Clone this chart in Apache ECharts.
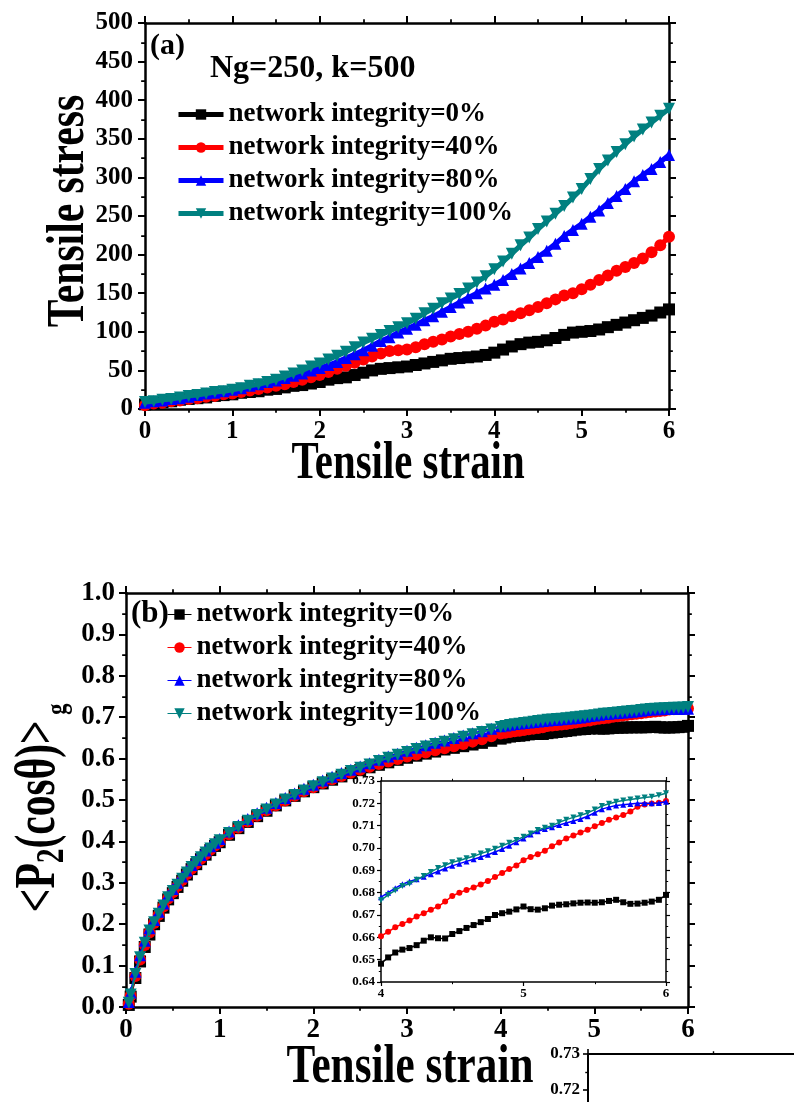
<!DOCTYPE html>
<html><head><meta charset="utf-8">
<script src="https://cdn.jsdelivr.net/npm/echarts@6/dist/echarts.min.js"></script>
<style>html,body{margin:0;padding:0;background:#fff}#c{width:794px;height:1102px}</style>
</head><body><div id="c"></div>
<script>
// ---------- DATA ----------
const seriesNames = ['network integrity=0%','network integrity=40%','network integrity=80%','network integrity=100%'];

// (a) tensile stress vs tensile strain
const strainA = [0,0.1,0.2,0.3,0.4,0.5,0.6,0.7,0.8,0.9,1.0,1.1,1.2,1.3,1.4,1.5,1.6,1.7,1.8,1.9,2.0,
  2.1,2.2,2.3,2.4,2.5,2.6,2.7,2.8,2.9,3.0,3.1,3.2,3.3,3.4,3.5,3.6,3.7,3.8,3.9,4.0,
  4.1,4.2,4.3,4.4,4.5,4.6,4.7,4.8,4.9,5.0,5.1,5.2,5.3,5.4,5.5,5.6,5.7,5.8,5.9,6.0];
const stress0 = [6,7,9,10,12,13,14,15,17,18,19,21,22,23,25,26,28,30,31,33,35,38,40,41,44,47,50,52,53,54,55,
  57,59,61,63,65,66,67,68,70,73,77,81,84,86,87,89,92,96,99,100,101,103,106,109,112,115,118,121,125,129];
const stress40 = [5,7,8,10,11,13,14,16,17,19,20,22,24,26,28,30,32,35,38,41,44,48,52,56,60,64,68,72,75,76,77,
  80,84,87,90,94,97,100,104,108,113,116,120,124,128,132,137,142,147,150,155,161,167,173,179,184,189,195,203,212,223];
const stress80 = [8,10,11,13,14,16,18,20,21,23,25,27,30,32,35,37,40,43,46,50,53,57,61,66,71,76,82,88,93,99,104,
  109,115,120,126,132,138,144,150,156,161,167,175,182,189,197,205,214,224,232,240,249,257,267,276,285,295,303,311,320,329];
const stress100 = [9,10,12,13,15,17,18,20,22,23,25,27,30,32,35,38,42,46,50,55,59,64,69,74,80,86,91,96,101,106,111,
  117,124,130,137,143,149,156,164,172,181,191,201,212,222,233,243,253,263,274,285,298,311,322,333,343,353,362,371,380,389];

// (b) <P2(cos theta)>g vs tensile strain
const strainB = [0.03,0.05,0.1,0.15,0.2,0.25,0.3,0.35,0.4,0.45,0.5,0.55,0.6,0.65,0.7,0.75,0.8,0.85,0.9,0.95,1.0,
  1.1,1.2,1.3,1.4,1.5,1.6,1.7,1.8,1.9,2.0,2.1,2.2,2.3,2.4,2.5,2.6,2.7,2.8,2.9,3.0,3.1,3.2,3.3,3.4,3.5,3.6,3.7,3.8,3.9,4.0,
  4.05,4.1,4.15,4.2,4.25,4.3,4.35,4.4,4.45,4.5,4.55,4.6,4.65,4.7,4.75,4.8,4.85,4.9,4.95,5.0,
  5.05,5.1,5.15,5.2,5.25,5.3,5.35,5.4,5.45,5.5,5.55,5.6,5.65,5.7,5.75,5.8,5.85,5.9,5.95,6.0];
const p2_0 = [0.005,0.025,0.07,0.11,0.145,0.175,0.2,0.22,0.24,0.26,0.275,0.29,0.305,0.32,0.333,0.345,0.357,0.368,0.379,0.389,0.398,
  0.416,0.432,0.447,0.461,0.474,0.487,0.499,0.51,0.521,0.531,0.54,0.549,0.557,0.565,0.572,0.579,0.585,0.591,0.597,0.602,
  0.607,0.612,0.617,0.622,0.626,0.63,0.634,0.638,0.643,0.6482,
  0.6510,0.6532,0.6545,0.6552,0.6565,0.6585,0.6600,0.6596,0.6595,0.6615,0.6628,0.6642,0.6655,0.6668,0.6682,0.6700,0.6708,0.6715,0.6725,0.6738,
  0.6726,0.6724,0.6730,0.6742,0.6746,0.6748,0.6752,0.6755,0.6756,0.6755,0.6757,0.6763,0.6768,0.6757,0.6750,0.6751,0.6755,0.6760,0.6768,0.6790];
const p2_40 = [0.008,0.028,0.075,0.115,0.15,0.18,0.203,0.223,0.243,0.262,0.277,0.292,0.307,0.321,0.334,0.346,0.358,0.369,0.38,0.39,0.399,
  0.417,0.433,0.448,0.462,0.475,0.487,0.499,0.51,0.521,0.531,0.541,0.55,0.558,0.566,0.573,0.58,0.587,0.593,0.599,0.605,
  0.61,0.615,0.62,0.625,0.63,0.635,0.641,0.647,0.654,0.6605,
  0.6625,0.6645,0.6660,0.6675,0.6693,0.6708,0.6724,0.6738,0.6760,0.6785,0.6800,0.6812,0.6823,0.6837,0.6852,0.6870,0.6888,0.6906,0.6922,0.6945,
  0.6960,0.6972,0.6988,0.7008,0.7025,0.7043,0.7056,0.7069,0.7082,0.7097,0.7112,0.7126,0.7137,0.7148,0.7163,0.7185,0.7195,0.7199,0.7203,0.7210];
const p2_80 = [0.012,0.035,0.085,0.125,0.16,0.19,0.21,0.23,0.25,0.27,0.285,0.3,0.315,0.33,0.343,0.355,0.367,0.378,0.388,0.397,0.406,
  0.424,0.439,0.454,0.468,0.481,0.493,0.505,0.516,0.527,0.537,0.547,0.556,0.565,0.573,0.581,0.589,0.597,0.605,0.612,0.619,
  0.626,0.632,0.638,0.644,0.65,0.656,0.661,0.666,0.672,0.678,
  0.680,0.682,0.6838,0.6850,0.6860,0.6871,0.6883,0.6895,0.6908,0.6920,0.6930,0.6940,0.6950,0.6960,0.6970,0.6982,0.6995,0.7010,0.7026,0.7042,
  0.7060,0.7075,0.7085,0.7093,0.7103,0.7112,0.7121,0.7130,0.7142,0.7158,0.7174,0.7183,0.7190,0.7194,0.7197,0.7200,0.7200,0.7200,0.7202,0.7207];
const p2_100 = [0.01,0.03,0.08,0.12,0.155,0.185,0.205,0.225,0.245,0.265,0.28,0.295,0.31,0.325,0.338,0.35,0.362,0.373,0.383,0.393,0.403,
  0.420,0.435,0.450,0.464,0.477,0.489,0.501,0.512,0.523,0.533,0.543,0.552,0.561,0.570,0.578,0.586,0.594,0.602,0.609,0.616,
  0.623,0.629,0.635,0.641,0.647,0.653,0.659,0.664,0.670,0.6766,
  0.679,0.681,0.683,0.684,0.6858,0.6875,0.6893,0.6910,0.6923,0.6936,0.6944,0.6954,0.6963,0.6975,0.6985,0.6997,0.7010,0.7023,0.7036,0.7050,
  0.7065,0.7081,0.7091,0.7100,0.7115,0.7127,0.7137,0.7147,0.7157,0.7172,0.7188,0.7198,0.7207,0.7213,0.7217,0.7222,0.7226,0.7229,0.7236,0.7245];

const seriesColors = ['#000000','#ff0000','#0000ff','#008080'];
const seriesSymbols = ['rect','circle','triangle','triangle'];
const seriesRotate = [0,0,0,180];

// ---------- CHART ----------
const FONT = '"Liberation Serif","Times New Roman",serif';
const chart = echarts.init(document.getElementById('c'), null, {renderer:'canvas'});

function axis(o){
  return {
    type:'value', gridIndex:o.grid, position:o.pos, min:o.min, max:o.max, interval:o.interval,
    axisLine:{show:true, onZero:false, lineStyle:{color:'#000', width:o.lw}},
    axisTick:{show:true, inside:false, length:o.tick, lineStyle:{color:'#000', width:o.lw*0.8}},
    minorTick:{show:true, splitNumber:2, length:o.tick*0.55, lineStyle:{color:'#000', width:o.lw*0.7}},
    splitLine:{show:false}, minorSplitLine:{show:false},
    axisLabel:{show:!!o.label, margin:o.margin||8, fontFamily:FONT, fontWeight:'bold',
      fontSize:o.fs||12, color:'#000', formatter:o.fmt}
  };
}

const grids = [
  {left:145, top:23, width:524, height:386},
  {left:126, top:593, width:562, height:414},
  {left:381, top:781, width:285, height:201, show:true, backgroundColor:'#fff', borderWidth:0},
  {left:588, top:1054, width:500, height:324}
].map(g => Object.assign({containLabel:false, outerBoundsMode:'none'}, g));

const xAxes = [
  axis({grid:0,pos:'bottom',min:0,max:6,interval:1,lw:2.5,tick:7,label:true,fs:25,margin:10}),
  axis({grid:0,pos:'top',min:0,max:6,interval:1,lw:2.5,tick:7}),
  axis({grid:1,pos:'bottom',min:0,max:6,interval:1,lw:2.5,tick:7,label:true,fs:27,margin:10}),
  axis({grid:1,pos:'top',min:0,max:6,interval:1,lw:2.5,tick:7}),
  axis({grid:2,pos:'bottom',min:4,max:6,interval:1,lw:1.5,tick:4,label:true,fs:13,margin:5}),
  axis({grid:2,pos:'top',min:4,max:6,interval:1,lw:1.5,tick:4}),
  axis({grid:3,pos:'top',min:4,max:6,interval:1,lw:2,tick:5})
];
const yAxes = [
  axis({grid:0,pos:'left',min:0,max:500,interval:50,lw:2.5,tick:7,label:true,fs:25,margin:12}),
  axis({grid:0,pos:'right',min:0,max:500,interval:50,lw:2.5,tick:7}),
  axis({grid:1,pos:'left',min:0,max:1,interval:0.1,lw:2.5,tick:7,label:true,fs:27,margin:11,fmt:v=>v.toFixed(1)}),
  axis({grid:1,pos:'right',min:0,max:1,interval:0.1,lw:2.5,tick:7}),
  axis({grid:2,pos:'left',min:0.64,max:0.73,interval:0.01,lw:1.5,tick:4,label:true,fs:13,margin:6,fmt:v=>v.toFixed(2)}),
  axis({grid:2,pos:'right',min:0.64,max:0.73,interval:0.01,lw:1.5,tick:4}),
  axis({grid:3,pos:'left',min:0.64,max:0.73,interval:0.01,lw:2,tick:5,label:true,fs:17,margin:8,fmt:v=>v.toFixed(2)})
];

const stressSets = [stress0, stress40, stress80, stress100];
const p2Sets = [p2_0, p2_40, p2_80, p2_100];
const series = [];
stressSets.forEach((arr,i)=>{
  series.push({type:'line', name:seriesNames[i], xAxisIndex:0, yAxisIndex:0,
    data:strainA.map((x,j)=>[x,arr[j]]), symbol:seriesSymbols[i], symbolRotate:seriesRotate[i], symbolSize:12,
    lineStyle:{color:seriesColors[i], width:5}, itemStyle:{color:seriesColors[i]}, z:2+i, animation:false});
});
p2Sets.forEach((arr,i)=>{
  series.push({type:'line', name:seriesNames[i], xAxisIndex:2, yAxisIndex:2,
    data:strainB.map((x,j)=>[x,arr[j]]), symbol:seriesSymbols[i], symbolRotate:seriesRotate[i], symbolSize:12,
    lineStyle:{color:seriesColors[i], width:2}, itemStyle:{color:seriesColors[i]}, z:2+i, animation:false});
});
p2Sets.forEach((arr,i)=>{
  const pts = strainB.map((x,j)=>[x,arr[j]]).filter(p=>p[0]>=4);
  series.push({type:'line', name:seriesNames[i], xAxisIndex:4, yAxisIndex:4,
    data:pts, symbol:seriesSymbols[i], symbolRotate:seriesRotate[i], symbolSize:6,
    lineStyle:{color:seriesColors[i], width:1.5}, itemStyle:{color:seriesColors[i]}, z:10+i, animation:false});
});

const legendText = {fontFamily:FONT, fontWeight:'bold', fontSize:27, lineHeight:27, color:'#000'};
const legends = [
  {data:seriesNames, orient:'vertical', left:176, top:101, padding:0, itemWidth:45, itemHeight:13, itemGap:6,
   selectedMode:false, textStyle:legendText, lineStyle:{width:5}},
  {data:seriesNames, orient:'vertical', left:167, top:601, padding:0, itemWidth:24, itemHeight:13, itemGap:6,
   selectedMode:false, textStyle:legendText, lineStyle:{width:1}}
];

const graphic = [
  {type:'text', x:150, y:46, style:{text:'(a)', fill:'#000', font:'bold 30px '+FONT, align:'left', verticalAlign:'middle'}},
  {type:'text', x:210, y:69, style:{text:'Ng=250, k=500', fill:'#000', font:'bold 32px '+FONT, align:'left', verticalAlign:'middle'}},
  {type:'text', x:131, y:614, style:{text:'(b)', fill:'#000', font:'bold 31px '+FONT, align:'left', verticalAlign:'middle'}},
  {type:'text', x:408, y:465, scaleX:0.785, style:{text:'Tensile strain', fill:'#000', font:'bold 52px '+FONT, align:'center', verticalAlign:'middle'}},
  {type:'text', x:70, y:211, rotation:Math.PI/2, scaleX:0.8, style:{text:'Tensile stress', fill:'#000', font:'bold 52px '+FONT, align:'center', verticalAlign:'middle'}},
  {type:'text', x:410, y:1068, scaleX:0.8, style:{text:'Tensile strain', fill:'#000', font:'bold 54px '+FONT, align:'center', verticalAlign:'middle'}},
  {type:'text', x:40, y:808, rotation:Math.PI/2, scaleX:0.74, style:{
    text:'{m|<P}{s|2}{m|(cosθ)>}{g| g}', fill:'#000', align:'center', verticalAlign:'middle',
    rich:{
      m:{fontFamily:FONT, fontWeight:'bold', fontSize:56, lineHeight:66, fill:'#000'},
      s:{fontFamily:FONT, fontWeight:'bold', fontSize:40, lineHeight:40, verticalAlign:'bottom', fill:'#000'},
      g:{fontFamily:FONT, fontWeight:'bold', fontSize:30, lineHeight:30, verticalAlign:'bottom', fill:'#000'}
    }}}
];

chart.setOption({
  animation:false, backgroundColor:'#fff',
  grid:grids, xAxis:xAxes, yAxis:yAxes, series:series, legend:legends, graphic:graphic
});
</script></body></html>
